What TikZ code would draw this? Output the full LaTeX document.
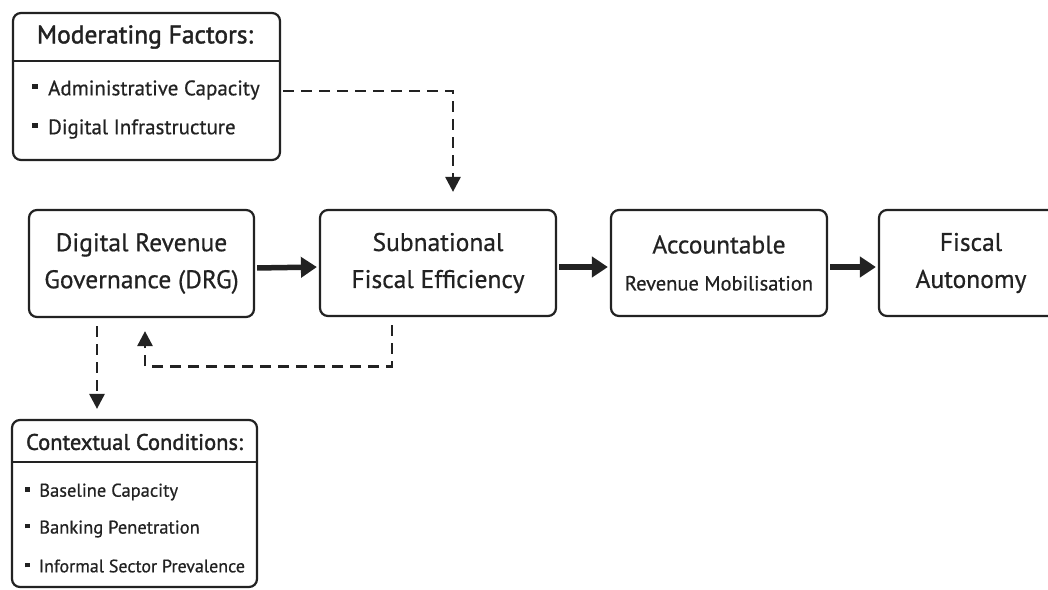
\documentclass[tikz,border=0pt]{standalone}
\usepackage{fontspec}
\setmainfont{PT Sans}[FakeBold=0.6]
\newfontfamily\titlefont{PT Sans}[FakeBold=1.6]
\usetikzlibrary{arrows.meta}
\definecolor{ink}{HTML}{222222}
\tikzset{
  box/.style={draw=ink, line width=2.2pt, rounded corners=8pt, fill=white, inner sep=0pt},
  mainbox/.style={box, align=center, text=ink, font=\fontsize{25.5}{37}\selectfont},
  title/.style={text=ink, inner sep=0pt},
  item/.style={text=ink, anchor=west, inner sep=0pt},
  thick arrow/.style={draw=ink, line width=5.5pt, -{Triangle[length=16pt,width=20pt]}},
  dash arrow/.style={draw=ink, line width=2.8pt, dash pattern=on 11pt off 7pt, -{Triangle[length=15pt,width=15pt]}},
  sep/.style={draw=ink, line width=2.2pt}
}
\newcommand{\sqb}{\rule[0.28em]{0.26em}{0.26em}\hspace{0.5em}}
\begin{document}
\begin{tikzpicture}[x=1pt,y=-1pt]
\path[use as bounding box, fill=white] (0,0) rectangle (1048,589);

% Moderating factors box
\node[box, minimum width=267pt, minimum height=147pt] (mod) at (146.5,86.5) {};
\draw[sep] (13,61) -- (280,61);
\node[title, font=\titlefont\fontsize{25.5}{28}\selectfont] (modT) at (145,37) {Moderating Factors:};
\node[item, font=\fontsize{21}{22}\selectfont] (modA) at (32,90) {\sqb Administrative Capacity};
\node[item, font=\fontsize{21}{22}\selectfont] (modB) at (32,129) {\sqb Digital Infrastructure};

% Main chain
\node[mainbox, minimum width=225pt, minimum height=107pt] (drg) at (141.5,263.5) {Digital Revenue\\Governance (DRG)};
\node[mainbox, minimum width=236pt, minimum height=106pt] (sfe) at (438,263) {Subnational\\Fiscal Efficiency};
\node[mainbox, minimum width=216pt, minimum height=106pt] (arm) at (719,263) {Accountable\\{\fontsize{20.5}{22}\selectfont Revenue Mobilisation}};
\node[mainbox, minimum width=184pt, minimum height=106pt] (fa) at (971,263) {Fiscal\\Autonomy};

% Contextual conditions box
\node[box, minimum width=245pt, minimum height=167pt] (ctx) at (134.5,503.5) {};
\draw[sep] (12,462) -- (257,462);
\node[title, font=\titlefont\fontsize{22.5}{24}\selectfont] (ctxT) at (134.5,442) {Contextual Conditions:};
\node[item, font=\fontsize{18.5}{20}\selectfont] (ctxA) at (25,492) {\sqb Baseline Capacity};
\node[item, font=\fontsize{18.5}{20}\selectfont] (ctxB) at (25,529) {\sqb Banking Penetration};
\node[item, font=\fontsize{18}{20}\selectfont] (ctxC) at (25,566) {\sqb Informal Sector Prevalence};

% Thick arrows
\draw[thick arrow, shorten <=2pt, shorten >=2pt] ([yshift=-4.5pt]drg.east) -- ([yshift=-4pt]sfe.west);
\draw[thick arrow, shorten <=2pt, shorten >=2pt] ([yshift=-4pt]sfe.east) -- ([yshift=-4pt]arm.west);
\draw[thick arrow, shorten <=2pt, shorten >=2pt] ([yshift=-4pt]arm.east) -- ([yshift=-4pt]fa.west);

% Dashed arrows
\draw[dash arrow, shorten <=2pt, shorten >=17pt] ([yshift=-1pt]mod.east |- modA) -| ([xshift=15pt]sfe.north);
\draw[dash arrow, shorten <=8pt, shorten >=10pt] ([xshift=-44.5pt]drg.south) -- ([xshift=-37.5pt]ctx.north);
\draw[dash arrow, shorten <=8pt, shorten >=13pt] ([xshift=-46pt]sfe.south) -- ++(0,49) -| ([xshift=3.5pt]drg.south);
\end{tikzpicture}
\end{document}
